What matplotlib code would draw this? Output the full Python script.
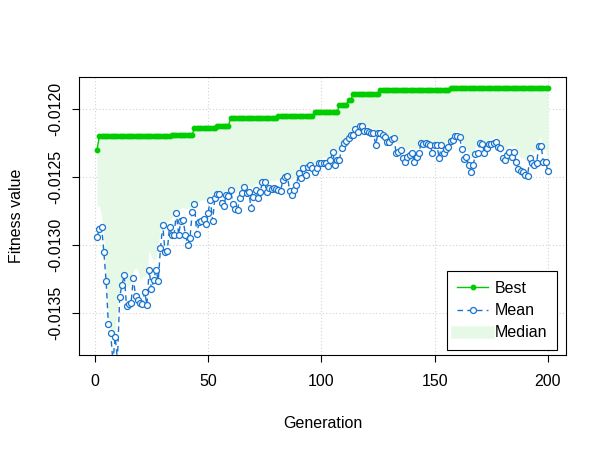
import matplotlib
matplotlib.use("Agg")
import matplotlib.pyplot as plt
import numpy as np
from matplotlib.lines import Line2D

plt.rcParams['font.family'] = ['Liberation Sans', 'DejaVu Sans']

generation = np.arange(1, 201)

# best fitness per generation (step changes)
best_steps = [(1, -0.012301), (2, -0.012202), (34, -0.012192), (44, -0.012137),
              (54, -0.012123), (60, -0.012064), (81, -0.012054), (97, -0.012020),
              (108, -0.011971), (112, -0.011934), (114, -0.011890),
              (126, -0.011860), (157, -0.011848)]

mean_fit = [
    -0.012939, -0.012885, -0.012865, -0.013051, -0.013265, -0.013583, -0.013645, -0.013860, -0.013676, -0.013846,
    -0.013380, -0.013294, -0.013221, -0.013449, -0.013436, -0.013430, -0.013245, -0.013375, -0.013404, -0.013424,
    -0.013436, -0.013343, -0.013441, -0.013184, -0.013326, -0.013257, -0.013184, -0.013263, -0.013024, -0.012853,
    -0.013049, -0.013045, -0.012865, -0.012926, -0.012926, -0.012763, -0.012926, -0.012821, -0.012816, -0.012926,
    -0.013000, -0.012951, -0.012760, -0.012701, -0.012921, -0.012833, -0.012824, -0.012811, -0.012846, -0.012767,
    -0.012669, -0.012821, -0.012657, -0.012627, -0.012627, -0.012693, -0.012711, -0.012632, -0.012638, -0.012596,
    -0.012701, -0.012738, -0.012743, -0.012652, -0.012620, -0.012571, -0.012620, -0.012614, -0.012730, -0.012645,
    -0.012596, -0.012657, -0.012608, -0.012539, -0.012539, -0.012613, -0.012583, -0.012588, -0.012583, -0.012588,
    -0.012596, -0.012603, -0.012522, -0.012498, -0.012493, -0.012601, -0.012632, -0.012596, -0.012559, -0.012473,
    -0.012510, -0.012436, -0.012485, -0.012424, -0.012412, -0.012436, -0.012461, -0.012432, -0.012395, -0.012395,
    -0.012398, -0.012400, -0.012419, -0.012375, -0.012314, -0.012412, -0.012375, -0.012372, -0.012289, -0.012252,
    -0.012233, -0.012215, -0.012191, -0.012188, -0.012149, -0.012167, -0.012125, -0.012128, -0.012160, -0.012160,
    -0.012167, -0.012174, -0.012179, -0.012265, -0.012174, -0.012176, -0.012191, -0.012204, -0.012240, -0.012240,
    -0.012223, -0.012215, -0.012321, -0.012314, -0.012301, -0.012360, -0.012387, -0.012351, -0.012338, -0.012326,
    -0.012387, -0.012353, -0.012326, -0.012252, -0.012260, -0.012252, -0.012257, -0.012265, -0.012321, -0.012265,
    -0.012265, -0.012363, -0.012265, -0.012326, -0.012296, -0.012277, -0.012235, -0.012228, -0.012196, -0.012196,
    -0.012204, -0.012296, -0.012370, -0.012351, -0.012412, -0.012465, -0.012412, -0.012333, -0.012326, -0.012252,
    -0.012257, -0.012321, -0.012289, -0.012260, -0.012260, -0.012252, -0.012245, -0.012282, -0.012289, -0.012363,
    -0.012375, -0.012338, -0.012314, -0.012351, -0.012314, -0.012392, -0.012443, -0.012456, -0.012465, -0.012485,
    -0.012493, -0.012363, -0.012399, -0.012412, -0.012399, -0.012270, -0.012270, -0.012392, -0.012392, -0.012456,
]

median_fit = [
    -0.012721, -0.012713, -0.012779, -0.012963, -0.013243, -0.013537, -0.013625, -0.013699, -0.013640, -0.013441,
    -0.013331, -0.013243, -0.013199, -0.013309, -0.013309, -0.013272, -0.013184, -0.013169, -0.013184, -0.013257,
    -0.013235, -0.013235, -0.013206, -0.013037, -0.013088, -0.013110, -0.013096, -0.013000, -0.012875, -0.012831,
    -0.012838, -0.012831, -0.012816, -0.012801, -0.012765, -0.012757, -0.012743, -0.012728, -0.012721, -0.012735,
    -0.012728, -0.012743, -0.012706, -0.012676, -0.012691, -0.012684, -0.012669, -0.012669, -0.012669, -0.012654,
    -0.012632, -0.012640, -0.012610, -0.012603, -0.012596, -0.012603, -0.012610, -0.012596, -0.012596, -0.012581,
    -0.012596, -0.012618, -0.012610, -0.012581, -0.012566, -0.012551, -0.012559, -0.012559, -0.012581, -0.012566,
    -0.012544, -0.012551, -0.012537, -0.012507, -0.012515, -0.012537, -0.012529, -0.012529, -0.012529, -0.012522,
    -0.012522, -0.012522, -0.012493, -0.012471, -0.012471, -0.012507, -0.012522, -0.012507, -0.012493, -0.012449,
    -0.012456, -0.012419, -0.012434, -0.012397, -0.012390, -0.012397, -0.012404, -0.012390, -0.012360, -0.012360,
    -0.012353, -0.012360, -0.012368, -0.012338, -0.012301, -0.012338, -0.012324, -0.012316, -0.012265, -0.012228,
    -0.012206, -0.012184, -0.012162, -0.012154, -0.012125, -0.012125, -0.012103, -0.012103, -0.012118, -0.012125,
    -0.012132, -0.012140, -0.012140, -0.012176, -0.012140, -0.012140, -0.012154, -0.012169, -0.012191, -0.012199,
    -0.012184, -0.012184, -0.012250, -0.012257, -0.012257, -0.012301, -0.012316, -0.012294, -0.012287, -0.012279,
    -0.012301, -0.012287, -0.012272, -0.012235, -0.012228, -0.012228, -0.012228, -0.012235, -0.012265, -0.012235,
    -0.012235, -0.012287, -0.012243, -0.012265, -0.012243, -0.012228, -0.012199, -0.012184, -0.012162, -0.012162,
    -0.012169, -0.012228, -0.012287, -0.012287, -0.012324, -0.012360, -0.012338, -0.012287, -0.012272, -0.012228,
    -0.012228, -0.012257, -0.012243, -0.012221, -0.012221, -0.012213, -0.012206, -0.012228, -0.012243, -0.012294,
    -0.012309, -0.012287, -0.012265, -0.012279, -0.012265, -0.012301, -0.012338, -0.012360, -0.012360, -0.012375,
    -0.012375, -0.012301, -0.012316, -0.012324, -0.012301, -0.012213, -0.012213, -0.012301, -0.012301, -0.012360,
]

best_fit = np.empty(len(generation))
for start, val in best_steps:
    best_fit[generation >= start] = val

GREEN = '#00CD00'
BLUE = '#1874CD'
FILL = '#E6F8E6'
FS = 11.5

fig = plt.figure(figsize=(6.05, 4.54), dpi=100)
ax = fig.add_axes([0.1306, 0.2181, 0.8049, 0.6123])

ax.fill_between(generation, median_fit, best_fit, color=FILL, linewidth=0, zorder=1)
ax.plot(generation, best_fit, '-o', color=GREEN, ms=3.2, lw=1, zorder=3)
ax.plot(generation, mean_fit, '--o', color=BLUE, ms=4.3, mfc='white', mew=0.9,
        lw=1, dashes=(4, 3), zorder=4)

ax.set_xlim(-6.96, 207.96)
ax.set_ylim(-0.013809, -0.011765)

xt = [0, 50, 100, 150, 200]
yt = [-0.0135, -0.0130, -0.0125, -0.0120]
ax.set_xticks(xt)
ax.set_yticks(yt)
ax.set_yticklabels(['%.4f' % v for v in yt], rotation=90, va='center')
for v in xt:
    ax.axvline(v, color='#D3D3D3', lw=0.8, ls=(0, (1, 2)), zorder=0)
for v in yt:
    ax.axhline(v, color='#D3D3D3', lw=0.8, ls=(0, (1, 2)), zorder=0)

ax.tick_params(length=5, width=0.8, labelsize=FS, colors='black')
ax.tick_params(axis='x', pad=9)
ax.tick_params(axis='y', pad=6)
for s in ax.spines.values():
    s.set_linewidth(0.8)

ax.set_xlabel('Generation', fontsize=FS, labelpad=19)
ax.set_ylabel('Fitness value', fontsize=FS, labelpad=18)

handles = [
    Line2D([], [], color=GREEN, marker='o', ms=3.2, lw=1),
    Line2D([], [], color=BLUE, marker='o', ms=4.3, mfc='white', mew=0.9, lw=1, ls='--', dashes=(4, 3)),
    Line2D([], [], color=FILL, lw=9),
]
leg = ax.legend(handles, ['Best', 'Mean', 'Median'], loc='lower right',
                bbox_to_anchor=(0.9815, 0.018), fontsize=FS, frameon=True,
                fancybox=False, framealpha=1, edgecolor='black',
                handlelength=2.0, handletextpad=0.4, borderpad=0.6,
                borderaxespad=0, labelspacing=0.45)
leg.get_frame().set_linewidth(0.8)

fig.savefig('out.png', dpi=100)
